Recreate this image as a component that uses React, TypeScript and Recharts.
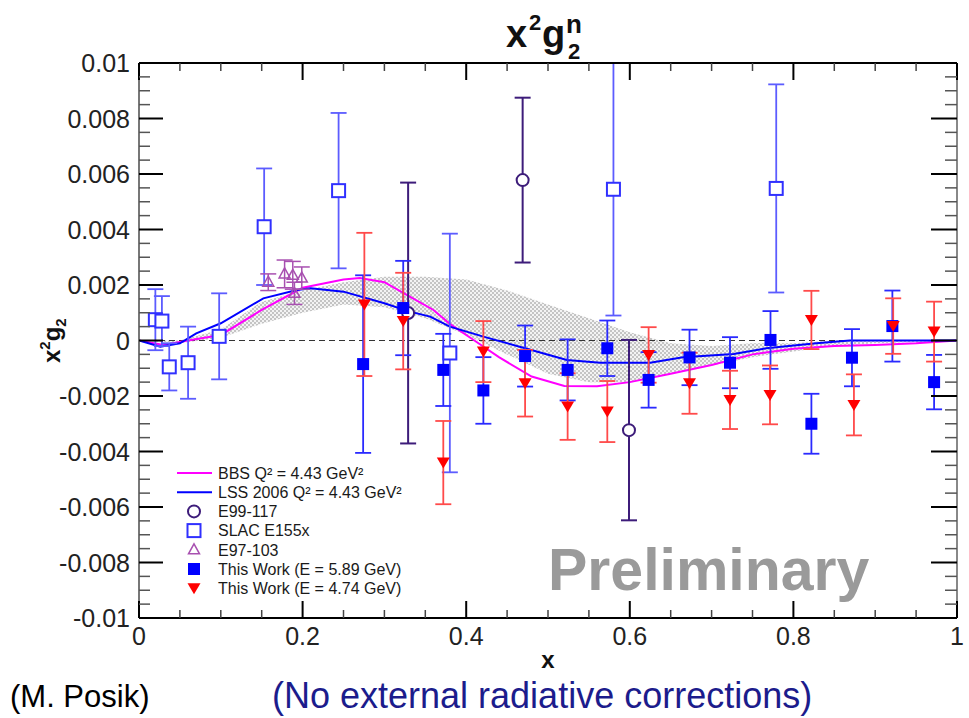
import React from 'react';
import { ComposedChart, XAxis, YAxis, Scatter, Line, Area, ErrorBar, ReferenceLine } from 'recharts';

// ---------------- data ----------------
const e99117 = [
  { x: 0.329, y: 0.00099, err: 0.0047 },
  { x: 0.469, y: 0.00578, err: 0.00297 },
  { x: 0.599, y: -0.00323, err: 0.00325 },
];
const slacE155x = [
  { x: 0.02, y: 0.00075, err: 0.0011 },
  { x: 0.028, y: 0.0007, err: 0.0009 },
  { x: 0.037, y: -0.00095, err: 0.00085 },
  { x: 0.06, y: -0.0008, err: 0.0013 },
  { x: 0.098, y: 0.00015, err: 0.00155 },
  { x: 0.153, y: 0.0041, err: 0.0021 },
  { x: 0.244, y: 0.0054, err: 0.0028 },
  { x: 0.38, y: -0.00045, err: 0.0043 },
  { x: 0.58, y: 0.00545, err: 0.00455 },
  { x: 0.779, y: 0.00548, err: 0.00375 },
];
const e97103 = [
  { x: 0.158, y: 0.0021, err: 0.0003 },
  { x: 0.178, y: 0.0024, err: 0.0005 },
  { x: 0.188, y: 0.00235, err: 0.0005 },
  { x: 0.19, y: 0.0017, err: 0.0004 },
  { x: 0.199, y: 0.00225, err: 0.0004 },
];
const thisWork589 = [
  { x: 0.274, y: -0.00085, err: 0.0032 },
  { x: 0.323, y: 0.00117, err: 0.0017 },
  { x: 0.372, y: -0.00106, err: 0.0013 },
  { x: 0.421, y: -0.0018, err: 0.0012 },
  { x: 0.472, y: -0.00056, err: 0.0011 },
  { x: 0.524, y: -0.00106, err: 0.0011 },
  { x: 0.5725, y: -0.00028, err: 0.001 },
  { x: 0.623, y: -0.00142, err: 0.001 },
  { x: 0.673, y: -0.00061, err: 0.001 },
  { x: 0.7225, y: -0.0008, err: 0.00092 },
  { x: 0.772, y: 0.00002, err: 0.00104 },
  { x: 0.822, y: -0.003, err: 0.00108 },
  { x: 0.8716, y: -0.00062, err: 0.00103 },
  { x: 0.921, y: 0.00052, err: 0.00128 },
  { x: 0.972, y: -0.0015, err: 0.00098 },
];
const thisWork474 = [
  { x: 0.2755, y: 0.0013, err: 0.00258 },
  { x: 0.323, y: 0.0007, err: 0.00174 },
  { x: 0.372, y: -0.0044, err: 0.0015 },
  { x: 0.421, y: -0.0004, err: 0.0011 },
  { x: 0.472, y: -0.00154, err: 0.0012 },
  { x: 0.524, y: -0.00238, err: 0.0012 },
  { x: 0.5725, y: -0.00256, err: 0.0011 },
  { x: 0.623, y: -0.00052, err: 0.001 },
  { x: 0.673, y: -0.00154, err: 0.0011 },
  { x: 0.7225, y: -0.00214, err: 0.00105 },
  { x: 0.7714, y: -0.00196, err: 0.00106 },
  { x: 0.822, y: 0.00074, err: 0.00105 },
  { x: 0.874, y: -0.00232, err: 0.0011 },
  { x: 0.922, y: 0.00052, err: 0.001 },
  { x: 0.972, y: 0.00032, err: 0.00108 },
];
const bbsCurve = [
  { x: 0, y: 0 }, { x: 0.03, y: -0.00016 }, { x: 0.06, y: 0 }, { x: 0.1, y: 0.0002 },
  { x: 0.15, y: 0.0011 }, { x: 0.2, y: 0.0019 }, { x: 0.25, y: 0.0022 }, { x: 0.27, y: 0.00225 },
  { x: 0.3, y: 0.0021 }, { x: 0.33, y: 0.0016 }, { x: 0.36, y: 0.0011 }, { x: 0.38, y: 0.0006 },
  { x: 0.41, y: 0 }, { x: 0.44, y: -0.0006 }, { x: 0.48, y: -0.0013 }, { x: 0.52, y: -0.00164 },
  { x: 0.56, y: -0.00165 }, { x: 0.6, y: -0.0015 }, { x: 0.65, y: -0.0012 }, { x: 0.7, y: -0.00088 },
  { x: 0.75, y: -0.0005 }, { x: 0.8, y: -0.0003 }, { x: 0.85, y: -0.0002 }, { x: 0.9, y: -0.00016 },
  { x: 0.95, y: -0.0001 }, { x: 1, y: 0 },
];
const lssCurve = [
  { x: 0, y: 0 }, { x: 0.026, y: -0.00022 }, { x: 0.05, y: -0.0001 }, { x: 0.07, y: 0.00026 },
  { x: 0.1, y: 0.00062 }, { x: 0.152, y: 0.00152 }, { x: 0.193, y: 0.00182 }, { x: 0.21, y: 0.00188 },
  { x: 0.25, y: 0.00176 }, { x: 0.3, y: 0.00134 }, { x: 0.331, y: 0.00104 }, { x: 0.356, y: 0.00086 },
  { x: 0.38, y: 0.0005 }, { x: 0.421, y: 0.00014 }, { x: 0.472, y: -0.00028 }, { x: 0.523, y: -0.0007 },
  { x: 0.564, y: -0.0008 }, { x: 0.625, y: -0.0008 }, { x: 0.665, y: -0.0006 }, { x: 0.727, y: -0.00049 },
  { x: 0.767, y: -0.00028 }, { x: 0.828, y: -0.0001 }, { x: 0.869, y: 0 }, { x: 1, y: 0 },
];
const bandX = [0, 0.05, 0.1, 0.15, 0.2, 0.25, 0.3, 0.35, 0.4, 0.45, 0.5, 0.55, 0.6, 0.65, 0.7, 0.75, 0.8, 0.85, 0.9, 1];
const bandLow = [0, -0.0001, 0.0001, 0.0006, 0.001, 0.0013, 0.0012, 0.0008, 0.0002, -0.0005, -0.0012, -0.0015, -0.0015, -0.0012, -0.0009, -0.0006, -0.0004, -0.0002, -0.0001, 0];
const bandHigh = [0, 0, 0.0004, 0.0014, 0.0018, 0.0021, 0.0023, 0.0023, 0.0022, 0.0018, 0.0013, 0.0008, 0.0003, -0.0001, -0.0002, -0.0001, -0.0001, 0, 0, 0];
const bandData = bandX.map((x, i) => ({ x, range: [bandLow[i], bandHigh[i]] }));

const yMajor = [-0.01, -0.008, -0.006, -0.004, -0.002, 0, 0.002, 0.004, 0.006, 0.008, 0.01];
const yLabels = ['-0.01', '-0.008', '-0.006', '-0.004', '-0.002', '0', '0.002', '0.004', '0.006', '0.008', '0.01'];
const yTicks = Array.from({ length: 41 }, (_, i) => +(-0.01 + i * 0.0005).toFixed(4));
const xMajor = [0, 0.2, 0.4, 0.6, 0.8, 1];
const xLabels = ['0', '0.2', '0.4', '0.6', '0.8', '1'];
const xTicks = Array.from({ length: 21 }, (_, i) => +(i * 0.05).toFixed(2));

const legendItems = [
  'BBS Q² = 4.43 GeV²',
  'LSS 2006 Q² = 4.43 GeV²',
  'E99-117',
  'SLAC E155x',
  'E97-103',
  'This Work (E = 5.89 GeV)',
  'This Work (E = 4.74 GeV)',
];

// ---------------- styling ----------------
const FONT = '"Liberation Sans", Arial, Helvetica, sans-serif';
const C_E99 = '#3d1c7a';
const C_SLAC = '#3030ff';
const C_SLAC_ERR = '#5c5cff';
const C_E97 = '#a850b0';
const C_BLUE = '#0000ff';
const C_BLUE_ERR = '#2a2aff';
const C_RED = '#ff0000';
const C_RED_ERR = '#ff4a4a';
const C_BBS = '#ff00ff';
const C_LSS = '#0000ff';

const Y_GAP = 9;
const X_GAP = 6;

const idxOf = (arr: number[], v: number) => arr.findIndex((m) => Math.abs(m - Number(v)) < 1e-9);

// ROOT-style ticks: drawn inward from the frame, positions supplied by the axes
const renderLeftTick = (props: any) => {
  const x = Number(props.x);
  const y = Number(props.y);
  const i = idxOf(yMajor, props.payload.value);
  const major = i >= 0;
  const ax = x + Y_GAP;
  return (
    <g>
      <line x1={ax} x2={ax + (major ? 24 : 11)} y1={y} y2={y} stroke={major ? '#000' : '#555'} strokeWidth={major ? 2 : 1.5} />
      {major && (
        <text x={x} y={y} dy="0.36em" textAnchor="end" fontSize={25} fill="#222" fontFamily={FONT}>
          {yLabels[i]}
        </text>
      )}
    </g>
  );
};
const renderRightTick = (props: any) => {
  const x = Number(props.x);
  const y = Number(props.y);
  const major = idxOf(yMajor, props.payload.value) >= 0;
  const ax = x - Y_GAP;
  return <line x1={ax} x2={ax - (major ? 26 : 12)} y1={y} y2={y} stroke={major ? '#000' : '#555'} strokeWidth={major ? 2 : 1.5} />;
};
const renderBottomTick = (props: any) => {
  const x = Number(props.x);
  const y = Number(props.y);
  const i = idxOf(xMajor, props.payload.value);
  const major = i >= 0;
  const ay = y - X_GAP;
  return (
    <g>
      <line x1={x} x2={x} y1={ay} y2={ay - (major ? 17 : 8)} stroke={major ? '#000' : '#444'} strokeWidth={major ? 2 : 1.5} />
      {major && (
        <text x={x} y={ay + 27} textAnchor="middle" fontSize={25} fill="#222" fontFamily={FONT}>
          {xLabels[i]}
        </text>
      )}
    </g>
  );
};
const renderTopTick = (props: any) => {
  const x = Number(props.x);
  const y = Number(props.y);
  const major = idxOf(xMajor, props.payload.value) >= 0;
  const ay = y + X_GAP;
  return <line x1={x} x2={x} y1={ay} y2={ay + (major ? 17 : 8)} stroke={major ? '#000' : '#444'} strokeWidth={major ? 2 : 1.5} />;
};

// marker shapes
const OpenCircle = (p: any) => <circle cx={p.cx} cy={p.cy} r={6} fill="#fff" stroke={C_E99} strokeWidth={2} />;
const OpenSquare = (p: any) => <rect x={p.cx - 6.5} y={p.cy - 6.5} width={13} height={13} fill="#fff" stroke={C_SLAC} strokeWidth={2} />;
const OpenTriangle = (p: any) => (
  <path d={`M${p.cx},${p.cy - 6} L${p.cx + 5.5},${p.cy + 4} L${p.cx - 5.5},${p.cy + 4} Z`} fill="none" stroke={C_E97} strokeWidth={1.5} />
);
const FilledSquare = (p: any) => <rect x={p.cx - 6} y={p.cy - 6} width={12} height={12} fill={C_BLUE} />;
const FilledDown = (p: any) => (
  <path d={`M${p.cx - 6.5},${p.cy - 5} L${p.cx + 6.5},${p.cy - 5} L${p.cx},${p.cy + 6} Z`} fill={C_RED} />
);

const LegendMarker = ({ i, cx, cy }: { i: number; cx: number; cy: number }) => {
  if (i === 0) return <line x1={177} x2={212} y1={cy} y2={cy} stroke={C_BBS} strokeWidth={2} />;
  if (i === 1) return <line x1={177} x2={212} y1={cy} y2={cy} stroke={C_LSS} strokeWidth={2} />;
  if (i === 2) return <OpenCircle cx={cx} cy={cy} />;
  if (i === 3) return <OpenSquare cx={cx} cy={cy} />;
  if (i === 4) return <OpenTriangle cx={cx} cy={cy} />;
  if (i === 5) return <FilledSquare cx={cx} cy={cy} />;
  return <FilledDown cx={cx} cy={cy} />;
};

export default function App() {
  return (
    <div style={{ position: 'absolute', left: 0, top: 0, width: 969, height: 718, background: '#fff' }}>
      <ComposedChart width={969} height={718} margin={{ top: 62, right: 11, bottom: 60, left: 0 }}>
        <defs>
          <pattern id="checker" width="4" height="4" patternUnits="userSpaceOnUse">
            <rect width="4" height="4" fill="#f3f3f3" />
            <rect width="2" height="2" fill="#c4c4c4" />
            <rect x="2" y="2" width="2" height="2" fill="#c4c4c4" />
          </pattern>
        </defs>
        <XAxis
          dataKey="x" type="number" domain={[0, 1]} ticks={xTicks} interval={0} allowDataOverflow
          tickSize={0} tickMargin={X_GAP} tick={renderBottomTick} height={40}
          axisLine={{ stroke: '#000', strokeWidth: 2 }} tickLine={false}
        />
        <XAxis
          xAxisId="top" orientation="top" dataKey="x" type="number" domain={[0, 1]} ticks={xTicks} interval={0}
          allowDataOverflow tickSize={0} tickMargin={X_GAP} tick={renderTopTick} height={1}
          axisLine={{ stroke: '#000', strokeWidth: 2 }} tickLine={false}
        />
        <YAxis
          dataKey="y" type="number" domain={[-0.01, 0.01]} ticks={yTicks} interval={0} allowDataOverflow
          tickSize={0} tickMargin={Y_GAP} tick={renderLeftTick} width={139}
          axisLine={{ stroke: '#777', strokeWidth: 2 }} tickLine={false}
        />
        <YAxis
          yAxisId="right" orientation="right" type="number" domain={[-0.01, 0.01]} ticks={yTicks} interval={0}
          allowDataOverflow tickSize={0} tickMargin={Y_GAP} tick={renderRightTick} width={1}
          axisLine={{ stroke: '#888', strokeWidth: 2 }} tickLine={false}
        />
        <Area data={bandData} dataKey="range" type="linear" stroke="none" fill="url(#checker)" fillOpacity={1} isAnimationActive={false} />
        <ReferenceLine y={0} stroke="#333" strokeDasharray="6 4" strokeWidth={1.2} />
        <Line data={bbsCurve} dataKey="y" type="linear" stroke={C_BBS} strokeWidth={2} dot={false} isAnimationActive={false} />
        <Line data={lssCurve} dataKey="y" type="linear" stroke={C_LSS} strokeWidth={2} dot={false} isAnimationActive={false} />
        <Scatter data={e99117} shape={<OpenCircle />} isAnimationActive={false}>
          <ErrorBar dataKey="err" direction="y" width={8} stroke={C_E99} strokeWidth={2} />
        </Scatter>
        <Scatter data={slacE155x} shape={<OpenSquare />} isAnimationActive={false}>
          <ErrorBar dataKey="err" direction="y" width={8} stroke={C_SLAC_ERR} strokeWidth={1.8} />
        </Scatter>
        <Scatter data={e97103} shape={<OpenTriangle />} isAnimationActive={false}>
          <ErrorBar dataKey="err" direction="y" width={8} stroke={C_E97} strokeWidth={1.5} />
        </Scatter>
        <Scatter data={thisWork589} shape={<FilledSquare />} isAnimationActive={false}>
          <ErrorBar dataKey="err" direction="y" width={8} stroke={C_BLUE_ERR} strokeWidth={1.8} />
        </Scatter>
        <Scatter data={thisWork474} shape={<FilledDown />} isAnimationActive={false}>
          <ErrorBar dataKey="err" direction="y" width={8} stroke={C_RED_ERR} strokeWidth={1.8} />
        </Scatter>
      </ComposedChart>

      <svg width={969} height={718} style={{ position: 'absolute', left: 0, top: 0, pointerEvents: 'none' }} fontFamily={FONT}>
        {/* title */}
        <text x={506} y={47} fontSize={38} fontWeight="bold" fill="#111">x</text>
        <text x={529} y={30} fontSize={22} fontWeight="bold" fill="#111">2</text>
        <text x={542} y={47} fontSize={38} fontWeight="bold" fill="#111">g</text>
        <text x={566} y={33} fontSize={26} fontWeight="bold" fill="#111">n</text>
        <text x={568} y={59} fontSize={22} fontWeight="bold" fill="#111">2</text>
        {/* y axis title */}
        <g transform="translate(60,363) rotate(-90)">
          <text x={0} y={0} fontSize={24} fontWeight="bold" fill="#111">
            x<tspan fontSize={15} dy={-10}>2</tspan>
            <tspan fontSize={24} dy={10}>g</tspan>
            <tspan fontSize={15} dy={6}>2</tspan>
          </text>
        </g>
        {/* x axis title */}
        <text x={548} y={668} textAnchor="middle" fontSize={24} fontWeight="bold" fill="#111">x</text>
        {/* Preliminary */}
        <text x={548} y={590} fontSize={59} fontWeight="bold" fill="#9a9a9a">Preliminary</text>
        {/* legend */}
        {legendItems.map((t, i) => {
          const cy = 473 + i * 19.2;
          return (
            <g key={t}>
              <LegendMarker i={i} cx={194} cy={cy} />
              <text x={218} y={cy} dy="0.36em" fontSize={16} fill="#1a1a1a">{t}</text>
            </g>
          );
        })}
        {/* captions */}
        <text x={10} y={707} fontSize={31} fill="#000">(M. Posik)</text>
        <text x={272} y={708} fontSize={36} fill="#1c1c8c">(No external radiative corrections)</text>
      </svg>
    </div>
  );
}
